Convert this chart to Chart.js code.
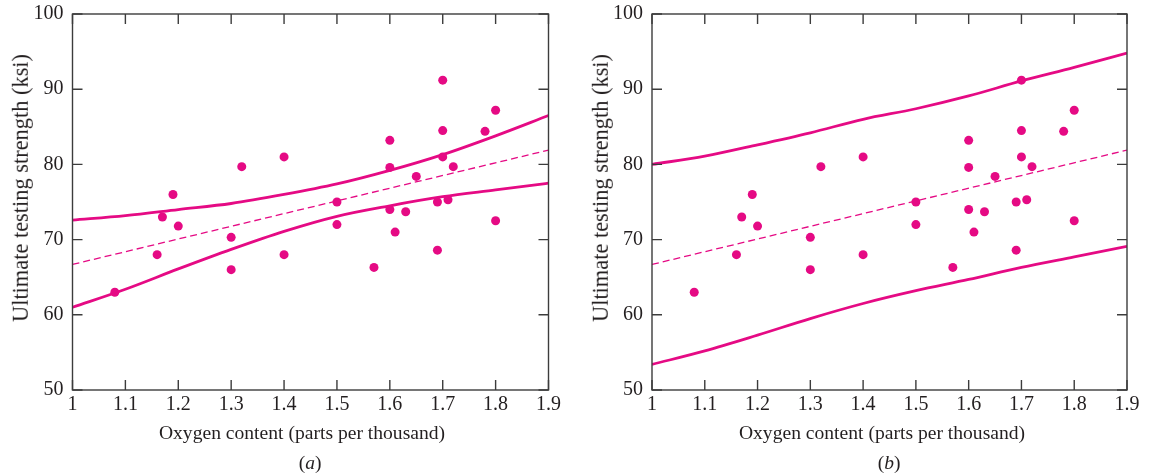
<!DOCTYPE html>
<html>
<head>
<meta charset="utf-8">
<script src="https://cdn.jsdelivr.net/npm/chart.js@4.4.0/dist/chart.umd.min.js"></script>
<style>
  html, body { margin: 0; padding: 0; background: #fff; }
  body { width: 1150px; height: 476px; position: relative; overflow: hidden;
         font-family: "Liberation Serif", "DejaVu Serif", serif; color: #231f20; }
  .panel { position: absolute; top: 0; width: 575px; height: 476px; }
  .txt { position: absolute; white-space: nowrap; transform: translate(-50%, -50%); line-height: 1; }
  .ytitle { transform: translate(-50%, -50%) rotate(-90deg); }
</style>
</head>
<body>
<div class="panel" style="left:0"><canvas id="chartA" width="575" height="476"></canvas></div>
<div class="panel" style="left:575px"><canvas id="chartB" width="575" height="476"></canvas></div>

<div class="txt ytitle" style="left:21px; top:188px; font-size:22.4px">Ultimate testing strength (ksi)</div>
<div class="txt" style="left:302px; top:433px; font-size:19.6px">Oxygen content (parts per thousand)</div>
<div class="txt" style="left:310px; top:463px; font-size:19.5px">(<i>a</i>)</div>

<div class="txt ytitle" style="left:601px; top:188px; font-size:22.4px">Ultimate testing strength (ksi)</div>
<div class="txt" style="left:882px; top:433px; font-size:19.6px">Oxygen content (parts per thousand)</div>
<div class="txt" style="left:889px; top:463px; font-size:19.5px">(<i>b</i>)</div>

<script>
// ─── DATA ─────────────────────────────────────────────────────────────────────
const OXYGEN = [1.08, 1.16, 1.17, 1.19, 1.20, 1.30, 1.30, 1.32, 1.40, 1.40,
                1.50, 1.50, 1.57, 1.60, 1.60, 1.60, 1.61, 1.63, 1.65, 1.69,
                1.69, 1.70, 1.70, 1.70, 1.71, 1.72, 1.78, 1.80, 1.80];
const STRENGTH = [63.0, 68.0, 73.0, 76.0, 71.8, 70.3, 66.0, 79.7, 81.0, 68.0,
                  75.0, 72.0, 66.3, 83.2, 79.6, 74.0, 71.0, 73.7, 78.4, 75.0,
                  68.6, 91.2, 84.5, 81.0, 75.3, 79.7, 84.4, 87.2, 72.5];

// least-squares line, read at the two ends of the axis
const FIT_X = [1.0, 1.9];
const FIT_Y = [66.7, 81.9];

// band curves at each x tick
const BAND_X     = [1.0, 1.1, 1.2, 1.3, 1.4, 1.5, 1.6, 1.7, 1.8, 1.9];
const CONF_UPPER = [72.6, 73.2, 74.0, 74.8, 76.0, 77.4, 79.2, 81.3, 83.8, 86.5];
const CONF_LOWER = [61.0, 63.4, 66.1, 68.7, 71.1, 73.1, 74.5, 75.7, 76.6, 77.5];
const PRED_UPPER = [80.0, 81.1, 82.6, 84.2, 86.0, 87.4, 89.1, 91.1, 92.9, 94.8];
const PRED_LOWER = [53.4, 55.2, 57.3, 59.5, 61.5, 63.2, 64.7, 66.3, 67.7, 69.1];

const X_TICKS = [1, 1.1, 1.2, 1.3, 1.4, 1.5, 1.6, 1.7, 1.8, 1.9];
const Y_TICKS = [50, 60, 70, 80, 90, 100];

// ─── STYLE ────────────────────────────────────────────────────────────────────
const PINK = "#e50a84";
const INK = "#231f20";
const FRAME = "#3c3c3c";
const SERIF = "Liberation Serif";

const pts = (xs, ys) => xs.map((x, i) => ({ x, y: ys[i] }));

// box around the plot with inward ticks on all four sides
const frameTicks = {
  id: "frameTicks",
  afterDatasetsDraw(chart) {
    const { ctx, chartArea: a, scales: { x, y } } = chart;
    const len = 10;
    ctx.save();
    ctx.strokeStyle = FRAME;
    ctx.lineWidth = 1.4;
    ctx.strokeRect(a.left, a.top, a.right - a.left, a.bottom - a.top);
    ctx.beginPath();
    X_TICKS.forEach(v => {
      const px = x.getPixelForValue(v);
      ctx.moveTo(px, a.bottom); ctx.lineTo(px, a.bottom - len);
      ctx.moveTo(px, a.top);    ctx.lineTo(px, a.top + len);
    });
    Y_TICKS.forEach(v => {
      const py = y.getPixelForValue(v);
      ctx.moveTo(a.left, py);  ctx.lineTo(a.left + len, py);
      ctx.moveTo(a.right, py); ctx.lineTo(a.right - len, py);
    });
    ctx.stroke();
    ctx.restore();
  }
};

function curve(xs, ys) {
  return {
    data: pts(xs, ys), showLine: true, borderColor: PINK, borderWidth: 2.8,
    pointRadius: 0, cubicInterpolationMode: "monotone", fill: false,
  };
}

function makeChart(id, upper, lower, box) {
  new Chart(document.getElementById(id), {
    type: "scatter",
    data: {
      datasets: [
        { data: pts(OXYGEN, STRENGTH), backgroundColor: PINK, borderWidth: 0, pointRadius: 4.5 },
        { data: pts(FIT_X, FIT_Y), showLine: true, borderColor: PINK, borderWidth: 1.3,
          borderDash: [7, 4], pointRadius: 0 },
        curve(BAND_X, upper),
        curve(BAND_X, lower),
      ]
    },
    options: {
      responsive: false, animation: false,
      layout: { padding: { left: 0, top: 14, right: box.right, bottom: 0 } },
      plugins: { legend: { display: false }, tooltip: { enabled: false } },
      scales: {
        x: {
          type: "linear", min: 1, max: 1.9,
          afterBuildTicks: s => { s.ticks = X_TICKS.map(v => ({ value: v })); },
          afterFit: s => { s.height = 86; s.paddingLeft = 0; s.paddingRight = 0; },
          grid: { display: false, drawTicks: false }, border: { display: false },
          ticks: { color: INK, font: { family: SERIF, size: 20 }, padding: 3,
                   maxRotation: 0, autoSkip: false, callback: v => String(+v.toFixed(1)) },
        },
        y: {
          type: "linear", min: 50, max: 100,
          afterBuildTicks: s => { s.ticks = Y_TICKS.map(v => ({ value: v })); },
          afterFit: s => { s.width = box.left; s.paddingTop = 0; s.paddingBottom = 0; },
          grid: { display: false, drawTicks: false }, border: { display: false },
          ticks: { color: INK, font: { family: SERIF, size: 20 }, padding: 9 },
        }
      }
    },
    plugins: [frameTicks]
  });
}

makeChart("chartA", CONF_UPPER, CONF_LOWER, { left: 72.5, right: 26.5 });
makeChart("chartB", PRED_UPPER, PRED_LOWER, { left: 77, right: 23 });
</script>
</body>
</html>
